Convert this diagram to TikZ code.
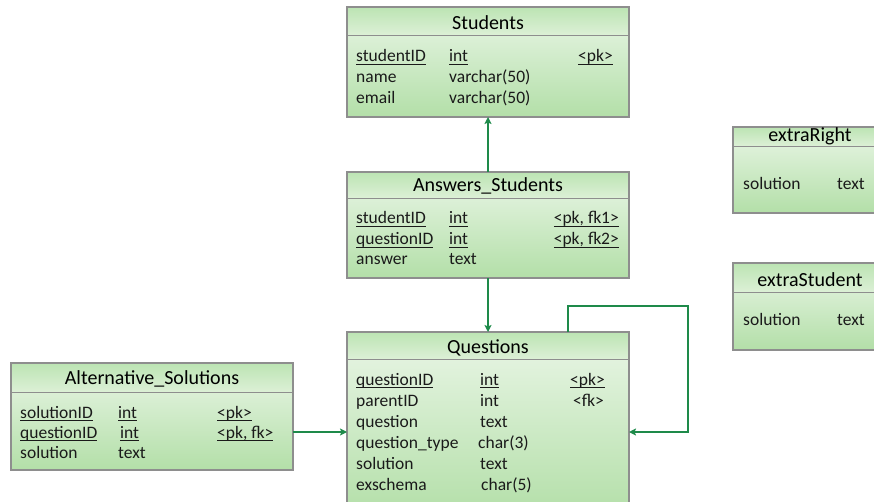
\documentclass[tikz,border=0pt]{standalone}
\usepackage{fontspec}
\setmainfont{Carlito}
\usetikzlibrary{arrows.meta,calc}

\definecolor{bodytop}{HTML}{EAF6E7}
\definecolor{bodybot}{HTML}{B3DFA8}
\definecolor{headtop}{HTML}{BCE4B3}
\definecolor{headbot}{HTML}{DCF0D6}
\definecolor{framegray}{HTML}{8E8E8E}
\definecolor{linkgreen}{HTML}{1E8A4A}
\definecolor{inkgray}{HTML}{1A1A1A}

\tikzset{
  tbl/.style={anchor=north west, inner sep=0pt, outer sep=0pt,
    top color=bodytop, bottom color=bodybot},
  border/.style={draw=framegray, line width=1.2pt},
  sepline/.style={draw=framegray, line width=0.9pt},
  ttl/.style={anchor=base, inner sep=0pt, text=black,
    font=\fontsize{20}{24}\selectfont},
  fld/.style={anchor=base west, inner sep=0pt, text=inkgray,
    font=\fontsize{17.5}{21}\selectfont},
  fldr/.style={fld, anchor=base east},
  conn/.style={draw=linkgreen, line width=1.8pt,
    -{Stealth[length=7pt,width=7pt,inset=1.5pt]}},
}

% table box: name, x, y, width, height, header height, title baseline, title
\newcommand\erbox[8]{%
  \node[tbl, minimum width=#4pt, minimum height=#5pt] (#1) at (#2,#3) {};
  \shade[top color=headtop, bottom color=headbot]
    (#1.north west) rectangle ([yshift=-#6pt]#1.north east);
  \draw[sepline] ([yshift=-#6pt]#1.north west) -- ([yshift=-#6pt]#1.north east);
  \draw[border] (#1.north west) rectangle (#1.south east);
  \node[ttl] (#1-title) at (#1.north |- 0,#7) {#8};
}
% key underline at a fixed depth below the baseline
\newcommand\ul[1]{\setbox0\hbox{#1}\rlap{\vrule height -1.7pt depth 2.8pt width \wd0}\box0}

\begin{document}
\begin{tikzpicture}[x=1pt,y=-1pt]
\useasboundingbox (0,0) rectangle (874,502);
\clip (0,0) rectangle (874,502);

% ---- Students ----
\erbox{students}{347}{7}{282}{110}{28}{30}{Students}
\node[fld] (st1a) at (356,62) {\ul{studentID}};
\node[fld] (st1b) at (449,62) {\ul{int}};
\node[fld] (st1c) at (578,62) {\ul{<pk>}};
\node[fld] (st2a) at (356,83) {name};
\node[fld] (st2b) at (449,83) {varchar(50)};
\node[fld] (st3a) at (356,104) {email};
\node[fld] (st3b) at (449,104) {varchar(50)};

% ---- Answers_Students ----
\erbox{answers}{347}{172}{282}{106}{26}{191.5}{Answers\_Students}
\node[fld] (as1a) at (356,224) {\ul{studentID}};
\node[fld] (as1b) at (449,224) {\ul{int}};
\node[fldr] (as1c) at (619,224) {\ul{<pk, fk1>}};
\node[fld] (as2a) at (356,245) {\ul{questionID}};
\node[fld] (as2b) at (449,245) {\ul{int}};
\node[fldr] (as2c) at (619,245) {\ul{<pk, fk2>}};
\node[fld] (as3a) at (356,265) {answer};
\node[fld] (as3b) at (449,265) {text};

% ---- Questions ----
\erbox{questions}{347}{332}{282}{185}{27}{353.5}{Questions}
\node[fld] (q1a) at (356,385) {\ul{questionID}};
\node[fld] (q1b) at (480,385) {\ul{int}};
\node[fld] (q1c) at (570,385) {\ul{<pk>}};
\node[fld] (q2a) at (356,406) {parentID};
\node[fld] (q2b) at (480,406) {int};
\node[fld] (q2c) at (573,406) {<fk>};
\node[fld] (q3a) at (356,427) {question};
\node[fld] (q3b) at (480,427) {text};
\node[fld] (q4a) at (356,448) {question\_type};
\node[fld] (q4b) at (478,448) {char(3)};
\node[fld] (q5a) at (356,469) {solution};
\node[fld] (q5b) at (480,469) {text};
\node[fld] (q6a) at (356,490) {exschema};
\node[fld] (q6b) at (481,490) {char(5)};

% ---- Alternative_Solutions ----
\erbox{alt}{11}{363}{282}{107}{29}{384.5}{Alternative\_Solutions}
\node[fld] (al1a) at (20,418) {\ul{solutionID}};
\node[fld] (al1b) at (118,418) {\ul{int}};
\node[fld] (al1c) at (217,418) {\ul{<pk>}};
\node[fld] (al2a) at (20,438) {\ul{questionID}};
\node[fld] (al2b) at (120,438) {\ul{int}};
\node[fld] (al2c) at (217,438) {\ul{<pk, fk>}};
\node[fld] (al3a) at (20,458) {solution};
\node[fld] (al3b) at (118,458) {text};

% ---- extraRight ----
\erbox{extraR}{733}{127}{154}{86}{19}{142}{extraRight}
\node[fld] (er1a) at (743,190) {solution};
\node[fld] (er1b) at (837,190) {text};

% ---- extraStudent ----
\erbox{extraS}{733}{263}{154}{87}{29}{286}{extraStudent}
\node[fld] (es1a) at (743,325) {solution};
\node[fld] (es1b) at (837,325) {text};

% ---- relationships ----
\coordinate (altrow) at (0,432);
\coordinate (loopA) at (568,306);
\coordinate (loopB) at (688,432);
\draw[conn] (answers.north) -- (students.south);
\draw[conn] (answers.south) -- (questions.north);
\draw[conn] (alt.east |- altrow) -- (questions.west |- altrow);
\draw[conn] (questions.north -| loopA) -- (loopA) -| (loopB)
  -- (questions.east |- loopB);
\end{tikzpicture}
\end{document}
